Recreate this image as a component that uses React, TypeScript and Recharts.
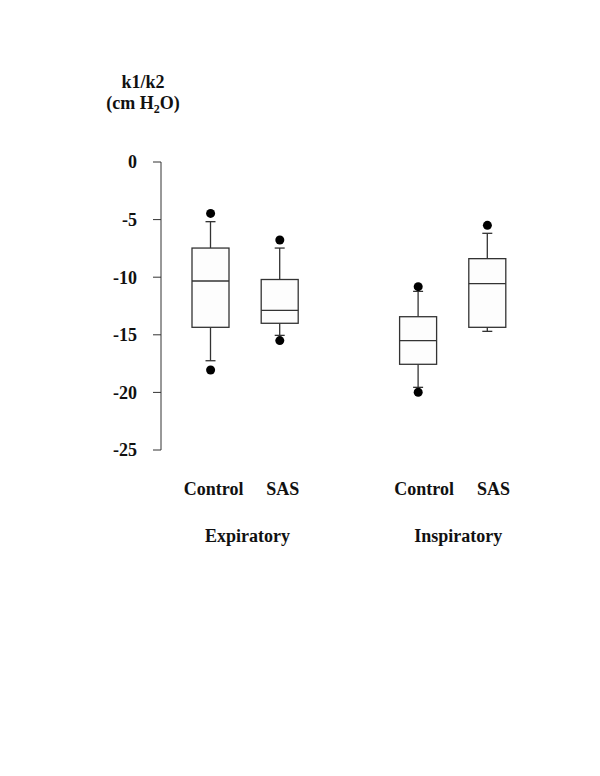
import { ComposedChart, Bar, Line, XAxis, YAxis, Label } from 'recharts';

const FONT = '"Times New Roman", "Liberation Serif", serif';
const INK = '#333';

// one entry per slot on the x axis; the spacer slot keeps the two groups apart
const categories = ['expControl', 'expSAS', 'spacer', 'inspControl', 'inspSAS'];
const tickLabels = ['Control', 'SAS', '', 'Control', 'SAS'];
const groupLabels = ['Expiratory', '', '', 'Inspiratory', ''];

const whiskerLow = [-17.25, -15.05, null, -19.56, -14.7];
const q1 = [-14.35, -14.0, null, -17.56, -14.35];
const median = [-10.33, -12.88, null, -15.51, -10.56];
const q3 = [-7.47, -10.2, null, -13.43, -8.39];
const whiskerHigh = [-5.18, -7.47, null, -11.23, -6.19];
const outlierHigh = [-4.46, -6.77, null, -10.82, -5.5];
const outlierLow = [-18.06, -15.5, null, -19.99, null];

const yTicks = [0, -5, -10, -15, -20, -25];

const data = categories.map((id, i) => ({
  id,
  lo: whiskerLow[i],
  q1: q1[i],
  med: median[i],
  q3: q3[i],
  hi: whiskerHigh[i],
  outHigh: outlierHigh[i],
  outLow: outlierLow[i],
}));

function BoxShape(props: any) {
  const { x, y, width, height, payload } = props;
  if (!payload || payload.lo == null || height == null) return <g />;
  const top = Math.min(y, y + height);
  const bottom = Math.max(y, y + height);
  const span = payload.hi - payload.lo;
  // the bar covers [lo, hi]; place the quartiles inside it on the same linear scale
  const toY = (v: number) => top + ((payload.hi - v) / span) * (bottom - top);
  const cx = x + width / 2;
  const yQ3 = toY(payload.q3);
  const yQ1 = toY(payload.q1);
  const yMed = toY(payload.med);
  const cap = 5;
  return (
    <g stroke={INK} strokeWidth={1.3} fill="none">
      <line x1={cx} x2={cx} y1={top} y2={yQ3} />
      <line x1={cx} x2={cx} y1={yQ1} y2={bottom} />
      <line x1={cx - cap} x2={cx + cap} y1={top} y2={top} />
      <line x1={cx - cap} x2={cx + cap} y1={bottom} y2={bottom} />
      <rect x={x} y={yQ3} width={width} height={yQ1 - yQ3} fill="#fdfdfd" />
      <line x1={x} x2={x + width} y1={yMed} y2={yMed} />
    </g>
  );
}

function OutlierDot(props: any) {
  const { cx, cy, value, index } = props;
  if (value == null || cy == null || isNaN(cy)) return <g key={`o-${index}`} />;
  return <circle key={`o-${index}`} cx={cx} cy={cy} r={4.5} fill="#000" stroke="none" />;
}

function CategoryTick(props: any) {
  const { x, y, payload } = props;
  const i = categories.indexOf(payload.value);
  const shift = i < 2 ? 3 : 6;
  return (
    <g fontFamily={FONT} fontWeight="bold" fontSize={18} fill="#111">
      <text x={x + shift} y={y + 45} textAnchor="middle">{tickLabels[i]}</text>
      {groupLabels[i] ? (
        <text x={x + 34 + shift} y={y + 92} textAnchor="middle">{groupLabels[i]}</text>
      ) : null}
    </g>
  );
}

function AxisTitle(props: any) {
  const { viewBox } = props;
  const cx = viewBox.x + viewBox.width - 18;
  return (
    <g fontFamily={FONT} fontWeight="bold" fontSize={18} fill="#111">
      <text x={cx} y={viewBox.y - 74} textAnchor="middle">k1/k2</text>
      <text x={cx} y={viewBox.y - 53} textAnchor="middle">
        (cm H<tspan fontSize={12} dy={4}>2</tspan><tspan dy={-4}>O)</tspan>
      </text>
    </g>
  );
}

export default function App() {
  return (
    <div style={{ position: 'absolute', left: 0, top: 0, background: '#fff' }}>
      <ComposedChart
        width={600}
        height={776}
        data={data}
        margin={{ top: 162, right: 78, bottom: 226, left: 100 }}
      >
        <XAxis
          dataKey="id"
          type="category"
          axisLine={false}
          tickLine={false}
          tickSize={0}
          tickMargin={0}
          height={100}
          interval={0}
          padding={{ left: 15, right: 0 }}
          tick={<CategoryTick />}
        />
        <YAxis
          type="number"
          domain={[-25, 0]}
          ticks={yTicks}
          width={61}
          tickSize={8}
          tickMargin={16}
          stroke={INK}
          tick={{ fontFamily: FONT, fontWeight: 'bold', fontSize: 18, fill: '#111' }}
        >
          <Label content={<AxisTitle />} />
        </YAxis>
        <Bar
          dataKey={(d: any) => (d.lo == null ? null : [d.lo, d.hi])}
          barSize={37}
          shape={<BoxShape />}
          isAnimationActive={false}
        />
        <Line
          dataKey="outHigh"
          stroke="none"
          dot={OutlierDot}
          activeDot={false}
          isAnimationActive={false}
        />
        <Line
          dataKey="outLow"
          stroke="none"
          dot={OutlierDot}
          activeDot={false}
          isAnimationActive={false}
        />
      </ComposedChart>
    </div>
  );
}
